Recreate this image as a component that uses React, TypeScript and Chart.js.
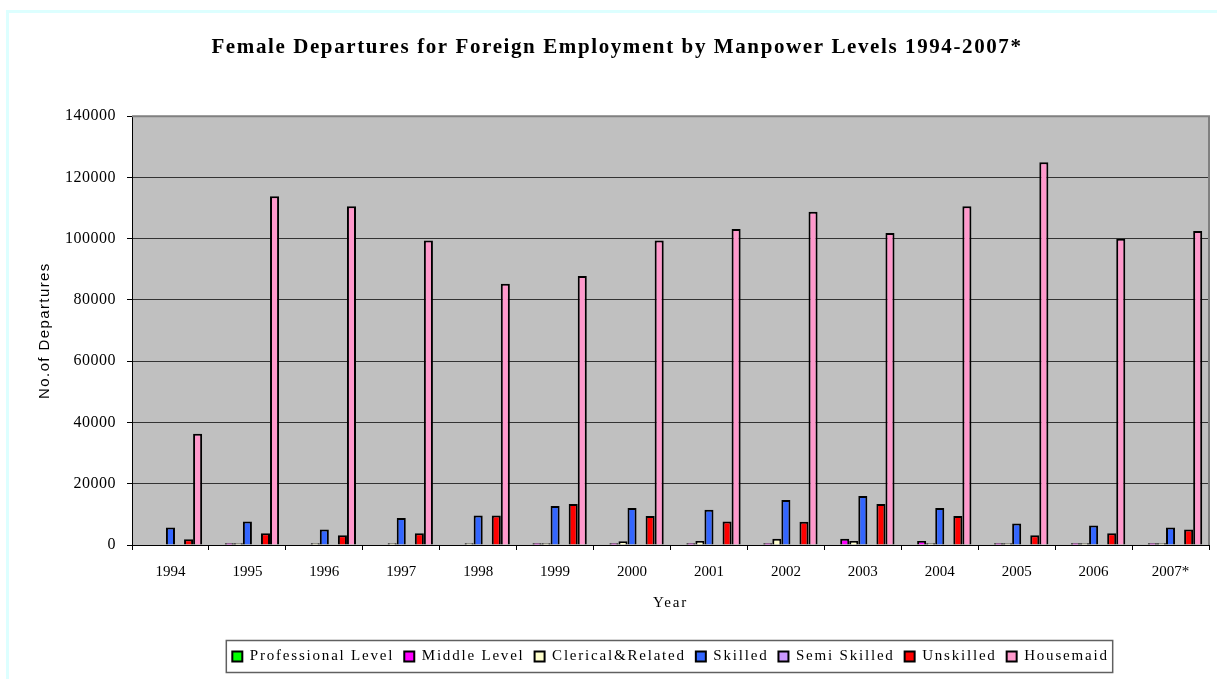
import { useEffect, useRef } from 'react';
import { Chart, registerables } from 'chart.js';

Chart.register(...registerables);

const years = ['1994', '1995', '1996', '1997', '1998', '1999', '2000', '2001', '2002', '2003', '2004', '2005', '2006', '2007*'];
const professional = [0, 0, 0, 0, 0, 0, 0, 0, 0, 0, 0, 0, 0, 0];
const middle = [0, 600, 0, 0, 0, 600, 600, 600, 600, 2000, 1300, 600, 600, 600];
const clerical = [0, 600, 600, 600, 600, 600, 1200, 1300, 2000, 1300, 600, 600, 600, 600];
const skilled = [5700, 7700, 5100, 8800, 9600, 12700, 12100, 11500, 14700, 16000, 12100, 7000, 6400, 5700];
const semiSkilled = [0, 0, 0, 0, 0, 0, 0, 0, 0, 0, 0, 0, 0, 0];
const unskilled = [1900, 3800, 3200, 3800, 9600, 13400, 9500, 7700, 7600, 13400, 9500, 3200, 3800, 5100];
const housemaid = [36300, 113900, 110600, 99400, 85300, 87800, 99400, 103200, 108800, 101900, 110600, 125000, 100000, 102500];
const yTicks = [0, 20000, 40000, 60000, 80000, 100000, 120000, 140000];

const seriesNames = ['Professional Level', 'Middle Level', 'Clerical&Related', 'Skilled', 'Semi Skilled', 'Unskilled', 'Housemaid'];
const seriesColors = ['#00FF00', '#FF00FF', '#FFFFCC', '#3366FF', '#CC99FF', '#FF0000', '#FF99CC'];
const seriesData = [professional, middle, clerical, skilled, semiSkilled, unskilled, housemaid];

const SPACED_SERIF = "'Liberation Serif', serif";

function spacingFor(font: string): string {
  if (font.includes('bold')) return '1.6px';
  if (font.includes('Liberation Sans')) return '1.4px';
  if (font.includes(', serif')) return '1.8px';
  if (font.includes('16px')) return '0.5px';
  return '0px';
}

export default function App() {
  const ref = useRef<HTMLCanvasElement>(null);

  useEffect(() => {
    if (!ref.current) return;
    const ctx2d = ref.current.getContext('2d') as any;
    const desc = Object.getOwnPropertyDescriptor(CanvasRenderingContext2D.prototype, 'font');
    if (ctx2d && desc && desc.set && desc.get) {
      Object.defineProperty(ctx2d, 'font', {
        configurable: true,
        get() {
          return desc.get!.call(this);
        },
        set(v: string) {
          desc.set!.call(this, v);
          try {
            this.letterSpacing = spacingFor(String(v));
          } catch (e) {
            /* ignore */
          }
        },
      });
    }

    const plotBg = {
      id: 'plotBg',
      beforeDraw(chart: any) {
        const { ctx, chartArea: a } = chart;
        ctx.save();
        ctx.fillStyle = '#C0C0C0';
        ctx.fillRect(a.left, a.top, a.right - a.left, a.bottom - a.top);
        ctx.restore();
      },
    };
    const frame = {
      id: 'frame',
      afterDraw(chart: any) {
        const { ctx, chartArea: a } = chart;
        ctx.save();
        ctx.strokeStyle = '#808080';
        ctx.lineWidth = 2;
        ctx.beginPath();
        ctx.moveTo(a.left, a.top);
        ctx.lineTo(a.right, a.top);
        ctx.lineTo(a.right, a.bottom);
        ctx.stroke();
        const hbs = chart.legend?.legendHitBoxes || [];
        if (hbs.length) {
          const minX = Math.min(...hbs.map((h: any) => h.left)) - 6;
          const maxX = Math.max(...hbs.map((h: any) => h.left + h.width)) + 4;
          const cy = hbs[0].top + hbs[0].height / 2;
          ctx.strokeStyle = '#606060';
          ctx.lineWidth = 1.5;
          ctx.strokeRect(minX, cy - 16, maxX - minX, 32);
        }
        ctx.restore();
      },
    };

    const chart = new Chart(ref.current, {
      type: 'bar',
      data: {
        labels: years,
        datasets: seriesNames.map((name, i) => ({
          label: name,
          data: seriesData[i],
          backgroundColor: seriesColors[i],
          borderColor: '#000000',
          borderWidth: 2,
          barPercentage: 1,
          categoryPercentage: 7 / 8.5,
        })),
      },
      options: {
        responsive: false,
        animation: false,
        devicePixelRatio: 1,
        layout: { padding: { left: 25, right: 8, top: 0, bottom: 5 } },
        plugins: {
          title: {
            display: true,
            text: 'Female Departures for Foreign Employment by Manpower Levels 1994-2007*',
            color: '#000',
            font: { family: 'Liberation Serif', size: 21, weight: 'bold' },
            padding: { top: 35, bottom: 56 },
          },
          legend: {
            position: 'bottom',
            fullSize: false,
            labels: {
              color: '#000',
              boxWidth: 10,
              boxHeight: 10,
              padding: 10,
              font: { family: SPACED_SERIF, size: 15 },
            },
          },
          tooltip: { enabled: false },
        },
        scales: {
          x: {
            grid: {
              display: true,
              drawOnChartArea: false,
              drawTicks: true,
              tickLength: 5,
              color: '#000',
              offset: true,
            },
            border: { display: true, color: '#000', width: 1 },
            ticks: {
              color: '#000',
              font: { family: 'Liberation Serif', size: 15 },
              padding: 13,
              autoSkip: false,
              maxRotation: 0,
            },
            title: {
              display: true,
              text: 'Year',
              color: '#000',
              font: { family: SPACED_SERIF, size: 15 },
              padding: { top: 0, bottom: 27 },
            },
          },
          y: {
            min: yTicks[0],
            max: yTicks[yTicks.length - 1],
            afterBuildTicks(scale: any) {
              scale.ticks = yTicks.map((v) => ({ value: v }));
            },
            grid: {
              color: '#333333',
              lineWidth: 1,
              tickColor: '#000',
              tickLength: 5,
            },
            border: { display: true, color: '#000', width: 1 },
            ticks: {
              color: '#000',
              font: { family: 'Liberation Serif', size: 16 },
              padding: 11,
              callback: (v: any) => String(v),
            },
            title: {
              display: true,
              text: 'No.of Departures',
              color: '#000',
              font: { family: 'Liberation Sans', size: 15 },
              padding: { top: 11, bottom: 0 },
            },
          },
        },
      },
      plugins: [plotBg, frame],
    });
    return () => chart.destroy();
  }, []);

  return (
    <div style={{ position: 'fixed', left: 0, top: 0, width: 1217, height: 679, background: '#fff', overflow: 'hidden' }}>
      <div
        style={{
          position: 'absolute',
          left: 6,
          top: 10,
          width: 1300,
          height: 800,
          borderLeft: '3px solid #DDFFFF',
          borderTop: '3px solid #DDFFFF',
        }}
      />
      <canvas ref={ref} width={1217} height={679} style={{ position: 'absolute', left: 0, top: 0 }} />
    </div>
  );
}
